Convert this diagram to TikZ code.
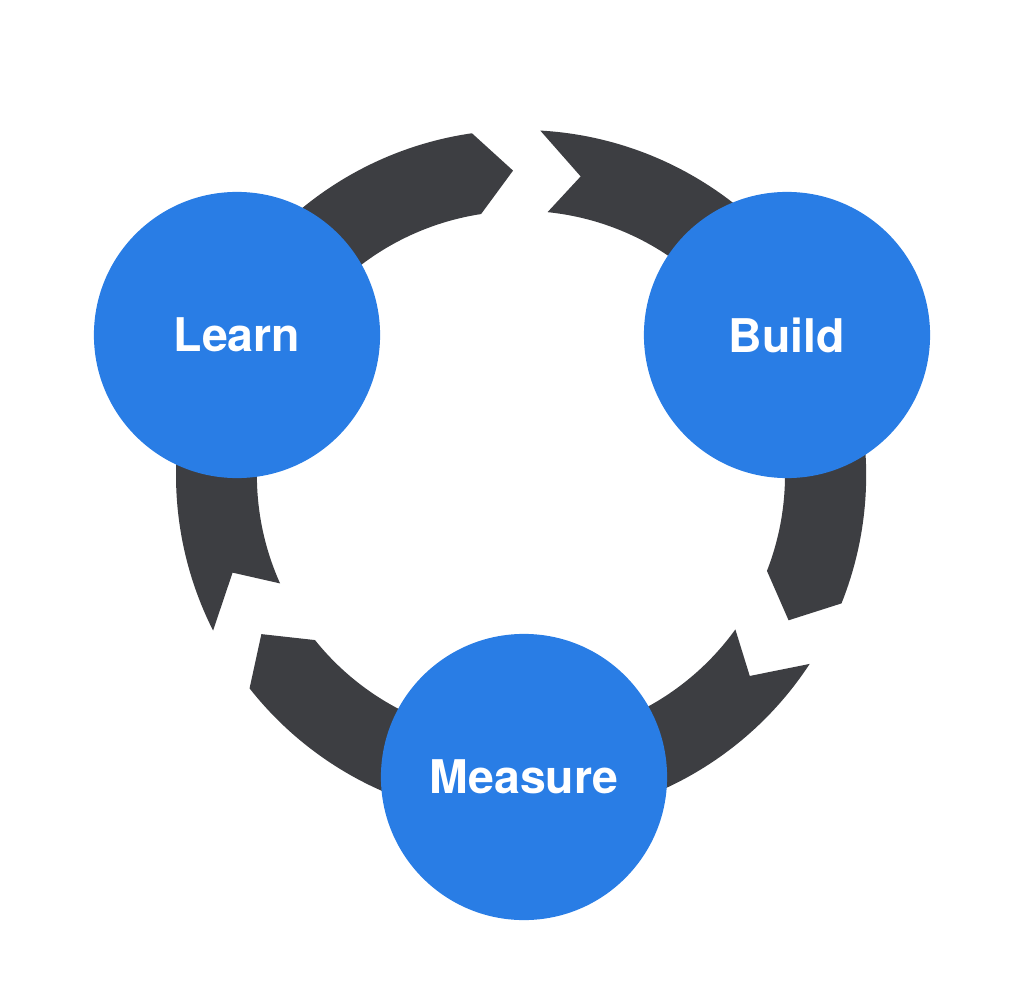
\documentclass[tikz,border=0pt]{standalone}
\usepackage{xcolor}
\usepackage{fontspec}
\setsansfont{TeX Gyre Heros}
\usepackage{tikz}

\definecolor{ringgray}{RGB}{61,62,66}
\definecolor{stageblue}{RGB}{41,125,229}

\begin{document}
\begin{tikzpicture}[x=0.01cm,y=0.01cm]
        \tikzstyle{stage}=[circle,fill=stageblue,minimum size=2.86cm,inner sep=0pt,
            text=white,font=\sffamily\bfseries\fontsize{13.2}{16}\selectfont]
        \tikzstyle{ring}=[fill=ringgray]

        \useasboundingbox (0,0) rectangle (1024,1002);

        \begin{scope}[shift={(521,527)}]
        % Learn -> Build
        \fill[ring] (206.8:345) arc[start angle=206.8,end angle=98.2,radius=3.45cm]
            -- (91.5:304.5) -- (98.7:264) arc[start angle=98.7,end angle=204.2,radius=2.64cm]
            -- (198.7:304.5) -- cycle;
        % Build -> Measure
        \fill[ring] (86.8:345) arc[start angle=86.8,end angle=-21.8,radius=3.45cm]
            -- (-28.5:304.5) -- (-21.3:264) arc[start angle=-21.3,end angle=84.2,radius=2.64cm]
            -- (78.7:304.5) -- cycle;
        % Measure -> Learn
        \fill[ring] (-33.2:345) arc[start angle=-33.2,end angle=-141.8,radius=3.45cm]
            -- (-148.5:304.5) -- (-141.3:264) arc[start angle=-141.3,end angle=-35.8,radius=2.64cm]
            -- (-41.3:304.5) -- cycle;
        \end{scope}

        \node[stage] (learn) at (237,667) {Learn};
        \node[stage] (build) at (787,667) {Build};
        \node[stage] (measure) at (524,225) {Measure};
    \end{tikzpicture}
\end{document}
